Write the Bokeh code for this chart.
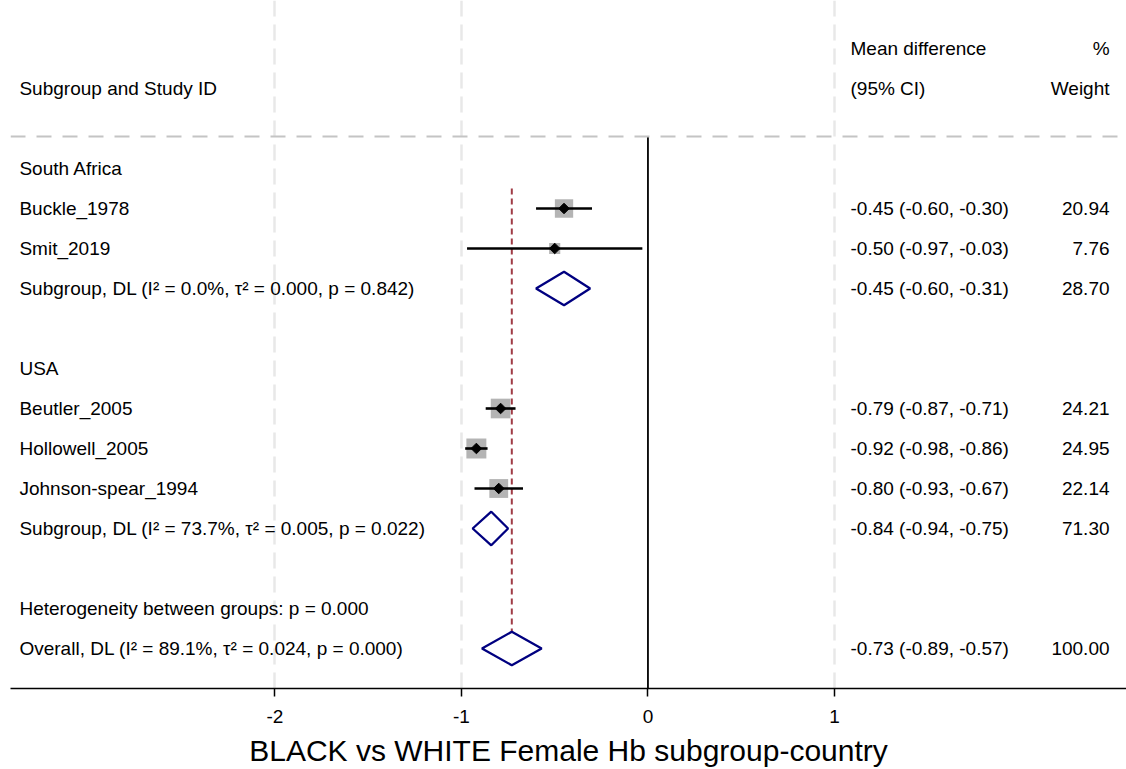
import math
from bokeh.plotting import figure
from bokeh.models import Range1d, Span, FixedTicker
from bokeh.core.properties import value
from bokeh.embed import file_html
from bokeh.resources import INLINE

FONT = "Liberation Sans"

# ---------------- data ----------------
groups = ["South Africa", "USA"]
studies = ["Buckle_1978", "Smit_2019", "Beutler_2005", "Hollowell_2005", "Johnson-spear_1994"]
study_group = ["South Africa", "South Africa", "USA", "USA", "USA"]
est = [-0.45, -0.50, -0.79, -0.92, -0.80]
lo = [-0.60, -0.97, -0.87, -0.98, -0.93]
hi = [-0.30, -0.03, -0.71, -0.86, -0.67]
weights = [20.94, 7.76, 24.21, 24.95, 22.14]

sub_est = [-0.45, -0.84]
sub_lo = [-0.60, -0.94]
sub_hi = [-0.31, -0.75]
sub_wt = [28.70, 71.30]
sub_stats = ["I² = 0.0%, τ² = 0.000, p = 0.842", "I² = 73.7%, τ² = 0.005, p = 0.022"]

overall_est = -0.73
overall_lo = -0.89
overall_hi = -0.57
overall_wt = 100.00
overall_stats = "I² = 89.1%, τ² = 0.024, p = 0.000"
het_p = "0.000"

x_ticks = [-2, -1, 0, 1]
x_tick_labels = ["-2", "-1", "0", "1"]
x_title = "BLACK vs WHITE Female Hb subgroup-country"

# ---------------- layout of rows ----------------
r = 4
label_rows = []
study_y = []
sub_y = []
for g, st in zip(groups, sub_stats):
    label_rows.append((r, g)); r += 1
    for s, sg in zip(studies, study_group):
        if sg == g:
            study_y.append(r); label_rows.append((r, s)); r += 1
    sub_y.append(r); label_rows.append((r, "Subgroup, DL (" + st + ")")); r += 2
het_y = r; r += 1
overall_y = r
label_rows.append((het_y, "Heterogeneity between groups: p = " + het_p))
label_rows.append((overall_y, "Overall, DL (" + overall_stats + ")"))

LABEL_X = -3.37
EST_X = 1.086
WT_X = 2.475
FS = "19px"

p = figure(frame_width=1116, frame_height=688,
           x_range=Range1d(-3.418, 2.566), y_range=Range1d(17, -0.2),
           output_backend="svg", toolbar_location=None, y_axis_location=None,
           min_border_left=10, min_border_right=0, min_border_top=0, min_border_bottom=0)
p.outline_line_color = None
p.background_fill_color = "white"
p.border_fill_color = "white"

# axis
ax = p.xaxis[0]
ax.ticker = FixedTicker(ticks=x_ticks, minor_ticks=[])
ax.major_label_overrides = {t: s for t, s in zip(x_ticks, x_tick_labels)}
ax.axis_line_color = "black"
ax.axis_line_width = 1.5
ax.major_tick_line_color = "black"
ax.major_tick_line_width = 1.5
ax.major_tick_out = 8
ax.major_tick_in = 0
ax.minor_tick_line_color = None
ax.major_label_text_font = FONT
ax.major_label_text_font_size = FS
ax.major_label_text_color = "black"
ax.major_label_standoff = 13
ax.axis_label = x_title
ax.axis_label_text_font = FONT
ax.axis_label_text_font_size = "30px"
ax.axis_label_text_font_style = "normal"
ax.axis_label_text_color = "black"
ax.axis_label_standoff = 8

p.ygrid.visible = False
p.xgrid.ticker = FixedTicker(ticks=[t for t in x_ticks if t != 0])
p.xgrid.grid_line_color = "#e8e8e8"
p.xgrid.grid_line_width = 2.5
p.xgrid.grid_line_dash = "16 8"

p.add_layout(Span(location=3.2, dimension="width", line_color="#c4c4c4",
                  line_width=2, line_dash="15 11"))

# null line
p.segment(x0=[0], y0=[3.2], x1=[0], y1=[17], line_color="black", line_width=1.8)
# overall effect line
p.segment(x0=[overall_est], y0=[4.5], x1=[overall_est], y1=[16.5],
          line_color="#a03c46", line_width=2, line_dash="6 4")

# study boxes, CIs, points
p.scatter(x=est, y=study_y, marker="square", size=[4.0 * math.sqrt(w) for w in weights],
          fill_color="#b4b4b4", line_color=None)
p.segment(x0=lo, y0=study_y, x1=hi, y1=study_y, line_color="black", line_width=2.6)
p.scatter(x=est, y=study_y, marker="square", angle=math.pi / 4, size=7.5,
          fill_color="black", line_color="black")

# diamonds
h = 0.42
dx = sub_lo + [overall_lo]
de = sub_est + [overall_est]
dh = sub_hi + [overall_hi]
dy = sub_y + [overall_y]
p.patches(xs=[[a, b, c, b] for a, b, c in zip(dx, de, dh)],
          ys=[[y, y - h, y, y + h] for y in dy],
          fill_color="white", line_color="#000080", line_width=2.3)

def txt(xs, ys, texts, align="left"):
    p.text(x=xs, y=ys, text=texts, text_font=value(FONT), text_font_size=FS,
           text_color="black", text_baseline="middle", text_align=align)

# headers
txt([LABEL_X], [2], ["Subgroup and Study ID"])
txt([EST_X, EST_X], [1, 2], ["Mean difference", "(95% CI)"])
txt([WT_X, WT_X], [1, 2], ["%", "Weight"], align="right")

# row labels
txt([LABEL_X] * len(label_rows), [a for a, _ in label_rows], [b for _, b in label_rows])

# estimate text
all_y = study_y + sub_y + [overall_y]
all_e = est + sub_est + [overall_est]
all_l = lo + sub_lo + [overall_lo]
all_h = hi + sub_hi + [overall_hi]
all_w = weights + sub_wt + [overall_wt]
txt([EST_X] * len(all_y), all_y,
    [f"{e:.2f} ({l:.2f}, {u:.2f})" for e, l, u in zip(all_e, all_l, all_h)])
txt([WT_X] * len(all_y), all_y, [f"{w:.2f}" for w in all_w], align="right")

open("out.html", "w").write(file_html(p, INLINE))
